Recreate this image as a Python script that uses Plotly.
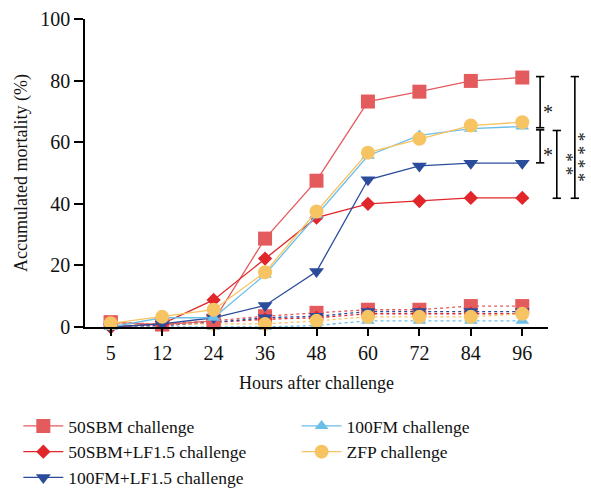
import plotly.graph_objects as go

hours = ["5", "12", "24", "36", "48", "60", "72", "84", "96"]

# challenge groups (solid lines)
sbm50_ch = [1.5, 0.8, 2.0, 28.7, 47.5, 73.2, 76.4, 79.9, 81.0]
sbm50_lf_ch = [0.0, 1.0, 8.8, 22.2, 35.5, 40.0, 40.9, 41.9, 41.9]
fm100_lf_ch = [0.0, 1.0, 3.0, 7.0, 18.0, 47.8, 52.3, 53.2, 53.2]
fm100_ch = [0.0, 3.0, 3.0, 17.0, 36.3, 55.6, 62.2, 64.4, 65.1]
zfp_ch = [1.2, 3.3, 5.6, 17.8, 37.5, 56.6, 61.1, 65.4, 66.5]

# non-challenged controls (dotted lines, not in legend)
sbm50_ct = [1.5, 1.0, 2.0, 3.5, 4.6, 5.6, 5.6, 6.8, 6.8]
sbm50_lf_ct = [0.0, 0.5, 1.5, 2.5, 3.0, 4.3, 4.3, 4.3, 4.3]
fm100_lf_ct = [0.0, 0.5, 1.5, 3.0, 3.5, 5.0, 5.0, 5.0, 5.0]
fm100_ct = [0.0, 0.0, 0.0, 0.0, 0.5, 2.0, 2.0, 2.0, 2.0]
zfp_ct = [1.0, 1.0, 1.0, 1.0, 2.0, 3.3, 3.3, 3.3, 4.3]

names = ["50SBM challenge", "50SBM+LF1.5 challenge", "100FM+LF1.5 challenge",
         "100FM challenge", "ZFP challenge"]
colors = ["#E45B5E", "#E1262B", "#2B4C9B", "#6CBEE8", "#F6C462"]
symbols = ["square", "diamond", "triangle-down", "triangle-up", "circle"]
sizes = [14, 11, 13, 12, 14]
legends = ["legend", "legend", "legend", "legend2", "legend2"]
ch_data = [sbm50_ch, sbm50_lf_ch, fm100_lf_ch, fm100_ch, zfp_ch]
ct_data = [sbm50_ct, sbm50_lf_ct, fm100_lf_ct, fm100_ct, zfp_ct]

# significance labels
sig_text = ["*", "*", "* *", "* * * *"]
sig_x = [1.0, 1.0, 1.039, 1.0648]
sig_y = [71.5, 57.4, 53.0, 55.1]

fig = go.Figure()

for i in range(5):
    fig.add_trace(go.Scatter(
        x=hours, y=ct_data[i], mode="lines+markers", showlegend=False,
        line=dict(color=colors[i], width=1.3, dash="dot"),
        marker=dict(symbol=symbols[i], size=sizes[i], color=colors[i]),
        cliponaxis=False, hoverinfo="skip"))

for i in range(5):
    fig.add_trace(go.Scatter(
        x=hours, y=ch_data[i], mode="lines+markers", name=names[i],
        legend=legends[i],
        line=dict(color=colors[i], width=1.3),
        marker=dict(symbol=symbols[i], size=sizes[i], color=colors[i]),
        cliponaxis=False))

# significance brackets
brackets = [  # (x paper, y top, y bottom)
    (0.983, 81.3, 64.7),
    (0.983, 64.0, 53.3),
    (1.019, 63.8, 41.8),
    (1.058, 81.3, 41.8),
]
cap = 0.009
for bx, yt, yb in brackets:
    fig.add_shape(type="line", xref="paper", yref="y", x0=bx, x1=bx, y0=yb, y1=yt,
                  line=dict(color="black", width=1.6))
    for yy in (yt, yb):
        fig.add_shape(type="line", xref="paper", yref="y", x0=bx - cap, x1=bx + cap,
                      y0=yy, y1=yy, line=dict(color="black", width=1.6))

for t, sx, sy in zip(sig_text, sig_x, sig_y):
    multi = len(t) > 1
    fig.add_annotation(x=sx, y=sy, xref="paper", yref="y", text=t, showarrow=False,
                       font=dict(size=(18 if multi else 20), color="#222222",
                                 family="Liberation Serif"),
                       xanchor="center", yanchor="middle",
                       textangle=(90 if multi else 0),
                       yshift=(0 if multi else -5))

font = dict(family="Liberation Serif", size=18, color="#111111")
lfont = dict(family="Liberation Serif", size=17.5, color="#111111")
tickfont = dict(family="Liberation Serif", size=20, color="#111111")

fig.update_layout(
    width=591, height=489,
    margin=dict(l=85, r=43, t=19, b=162, autoexpand=False),
    paper_bgcolor="white", plot_bgcolor="white",
    font=font,
    xaxis=dict(type="category", range=[-0.5, 8.5], showline=True, linecolor="black",
               linewidth=1.5, ticks="outside", ticklen=7, tickwidth=1.5, tickcolor="black",
               showgrid=False, zeroline=False, tickfont=tickfont,
               title=dict(text="Hours after challenge", font=font, standoff=14)),
    yaxis=dict(range=[0, 100], tickvals=[0, 20, 40, 60, 80, 100], showline=True,
               linecolor="black", linewidth=1.5, ticks="outside", ticklen=9, tickwidth=1.5,
               tickcolor="black", showgrid=False, zeroline=False, tickfont=tickfont,
               title=dict(text="Accumulated mortality (%)", font=font, standoff=8)),
    legend=dict(x=-0.144, y=-0.263, xanchor="left", yanchor="top", orientation="v",
                font=lfont, bgcolor="rgba(0,0,0,0)", tracegroupgap=0, itemwidth=40),
    legend2=dict(x=0.457, y=-0.263, xanchor="left", yanchor="top", orientation="v",
                 font=lfont, bgcolor="rgba(0,0,0,0)", tracegroupgap=0, itemwidth=40),
)

fig.write_html(
    "out.html",
    config={"displayModeBar": False},
    post_script="document.body.style.margin='0';"
                "document.body.style.overflow='hidden';"
                "document.documentElement.style.overflow='hidden';",
)
